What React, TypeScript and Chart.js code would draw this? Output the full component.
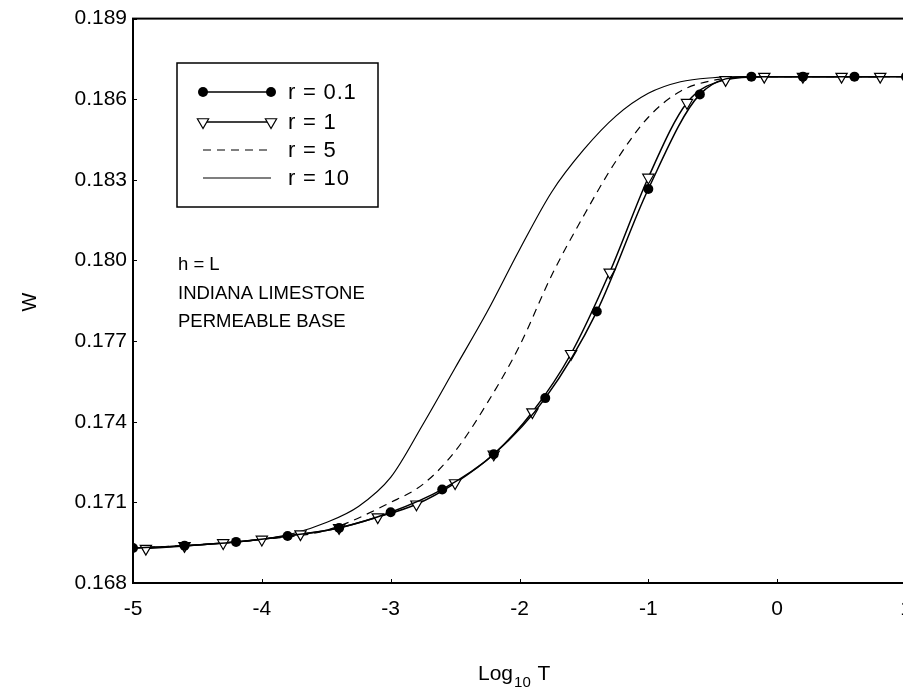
import React, { useEffect, useRef } from 'react';
import { Chart, registerables } from 'chart.js';

Chart.register(...registerables);

// ---- data ----
const xR01 = [-5, -4.6, -4.2, -3.8, -3.4, -3.0, -2.6, -2.2, -1.8, -1.4, -1.0, -0.6, -0.2, 0.2, 0.6, 1.0];
const wR01 = [0.1693, 0.16939, 0.16953, 0.16975, 0.17005, 0.17063, 0.17148, 0.17279, 0.17488, 0.1781, 0.18266, 0.18618, 0.18684, 0.18684, 0.18684, 0.18684];

const xR1 = [-4.9, -4.6, -4.3, -4.0, -3.7, -3.4, -3.1, -2.8, -2.5, -2.2, -1.9, -1.6, -1.3, -1.0, -0.7, -0.4, -0.1, 0.2, 0.5, 0.8];
const wR1 = [0.16928, 0.16938, 0.16949, 0.16962, 0.16982, 0.17005, 0.17045, 0.17093, 0.17172, 0.17279, 0.17436, 0.17653, 0.17956, 0.18309, 0.18587, 0.18672, 0.18684, 0.18684, 0.18684, 0.18684];

const xR5 = [-5, -4.5, -4, -3.5, -3, -2.75, -2.5, -2.25, -2, -1.75, -1.5, -1.25, -1, -0.75, -0.5, -0.25, 0, 0.5, 1];
const wR5 = [0.1693, 0.16942, 0.16962, 0.16996, 0.171, 0.17167, 0.1729, 0.1747, 0.17682, 0.17945, 0.18168, 0.18371, 0.18533, 0.1863, 0.1867, 0.18682, 0.18684, 0.18684, 0.18684];

const xR10 = [-5, -4.5, -4, -3.75, -3.5, -3.25, -3, -2.75, -2.5, -2.25, -2, -1.75, -1.5, -1.25, -1, -0.75, -0.5, -0.25, 0, 0.5, 1];
const wR10 = [0.1693, 0.16941, 0.16963, 0.16985, 0.17025, 0.17085, 0.17193, 0.1739, 0.176, 0.1781, 0.1804, 0.18255, 0.18413, 0.18538, 0.18622, 0.18665, 0.1868, 0.18684, 0.18684, 0.18684, 0.18684];

const yTicks = [0.168, 0.171, 0.174, 0.177, 0.18, 0.183, 0.186, 0.189];
const xTicks = [-5, -4, -3, -2, -1, 0, 1];

const seriesLabels = ['r = 0.1', 'r = 1', 'r = 5', 'r = 10'];
const noteLines = ['h = L', 'INDIANA LIMESTONE', 'PERMEABLE BASE'];
const xTitleMain = 'Log';
const xTitleSub = '10';
const xTitleEnd = ' T';
const yTitle = 'W';

const FONT = "'Liberation Sans', Arial, Helvetica, sans-serif";

const toPts = (xs: number[], ys: number[]) => xs.map((x, i) => ({ x, y: ys[i] }));

function drawTri(ctx: CanvasRenderingContext2D, x: number, y: number, r: number) {
  let rad = Math.PI;
  const step = (2 * Math.PI) / 3;
  ctx.beginPath();
  ctx.moveTo(x + Math.sin(rad) * r, y - Math.cos(rad) * r);
  rad += step;
  ctx.lineTo(x + Math.sin(rad) * r, y - Math.cos(rad) * r);
  rad += step;
  ctx.lineTo(x + Math.sin(rad) * r, y - Math.cos(rad) * r);
  ctx.closePath();
  ctx.fillStyle = '#fff';
  ctx.fill();
  ctx.stroke();
}

const framePlugin = {
  id: 'frame',
  afterDatasetsDraw(chart: any) {
    const { ctx, chartArea: a, scales } = chart;
    ctx.save();
    ctx.strokeStyle = '#000';
    ctx.lineWidth = 2;
    ctx.strokeRect(a.left, a.top, a.right - a.left, a.bottom - a.top);
    ctx.lineWidth = 1;
    yTicks.forEach((v) => {
      const py = Math.round(scales.y.getPixelForValue(v)) + 0.5;
      ctx.beginPath();
      ctx.moveTo(a.left, py);
      ctx.lineTo(a.left + 4, py);
      ctx.stroke();
    });
    xTicks.forEach((v) => {
      const px = Math.round(scales.x.getPixelForValue(v)) + 0.5;
      ctx.beginPath();
      ctx.moveTo(px, a.bottom);
      ctx.lineTo(px, a.bottom - 4);
      ctx.stroke();
    });
    ctx.restore();
  },
  afterDraw(chart: any) {
    const { ctx } = chart;
    ctx.save();
    ctx.strokeStyle = '#000';
    ctx.fillStyle = '#000';
    ctx.lineWidth = 1.5;
    ctx.strokeRect(177, 63, 201, 144);
    const rows = [92, 122, 150, 178];
    const x0 = 203;
    const x1 = 271;
    rows.forEach((y, i) => {
      ctx.save();
      ctx.strokeStyle = '#000';
      ctx.lineWidth = i < 2 ? 1.5 : 1.2;
      if (i === 2) ctx.setLineDash([8, 6]);
      ctx.beginPath();
      ctx.moveTo(x0, y);
      ctx.lineTo(x1, y);
      ctx.stroke();
      ctx.setLineDash([]);
      if (i === 0) {
        [x0, x1].forEach((px) => {
          ctx.beginPath();
          ctx.arc(px, y, 5, 0, Math.PI * 2);
          ctx.fillStyle = '#000';
          ctx.fill();
        });
      } else if (i === 1) {
        ctx.lineWidth = 1.2;
        [x0, x1].forEach((px) => drawTri(ctx, px, y, 6.5));
      }
      ctx.restore();
      ctx.save();
      ctx.fillStyle = '#000';
      ctx.font = `22px ${FONT}`;
      ctx.textBaseline = 'middle';
      ctx.textAlign = 'left';
      (ctx as any).letterSpacing = '0.8px';
      ctx.fillText(seriesLabels[i], 288, y + 1);
      ctx.restore();
    });
    ctx.fillStyle = '#000';
    ctx.textAlign = 'left';
    ctx.font = `18.5px ${FONT}`;
    ctx.textBaseline = 'alphabetic';
    const baselines = [270, 299, 327];
    noteLines.forEach((t, i) => ctx.fillText(t, 178, baselines[i]));
    ctx.font = `21px ${FONT}`;
    let tx = 478;
    const by = 680;
    ctx.fillText(xTitleMain, tx, by);
    tx += ctx.measureText(xTitleMain).width + 1;
    ctx.font = `15px ${FONT}`;
    ctx.fillText(xTitleSub, tx, by + 7);
    tx += ctx.measureText(xTitleSub).width + 1;
    ctx.font = `21px ${FONT}`;
    ctx.fillText(xTitleEnd, tx, by);
    ctx.translate(30, 302);
    ctx.rotate(-Math.PI / 2);
    ctx.textAlign = 'center';
    ctx.textBaseline = 'middle';
    ctx.font = `20px ${FONT}`;
    ctx.fillText(yTitle, 0, 0);
    ctx.restore();
  },
};

export default function App() {
  const ref = useRef<HTMLCanvasElement | null>(null);

  useEffect(() => {
    if (!ref.current) return;
    const chart = new Chart(ref.current, {
      type: 'line',
      data: {
        datasets: [
          {
            label: seriesLabels[0],
            data: toPts(xR01, wR01),
            borderColor: '#000',
            borderWidth: 1.5,
            pointStyle: 'circle',
            pointRadius: 5,
            pointBackgroundColor: '#000',
            pointBorderColor: '#000',
            pointBorderWidth: 0,
            cubicInterpolationMode: 'monotone',
            fill: false,
          },
          {
            label: seriesLabels[1],
            data: toPts(xR1, wR1),
            borderColor: '#000',
            borderWidth: 1.5,
            pointStyle: 'triangle',
            pointRotation: 180,
            pointRadius: 6.5,
            pointBackgroundColor: '#fff',
            pointBorderColor: '#000',
            pointBorderWidth: 1.2,
            cubicInterpolationMode: 'monotone',
            fill: false,
          },
          {
            label: seriesLabels[2],
            data: toPts(xR5, wR5),
            borderColor: '#000',
            borderWidth: 1.2,
            borderDash: [8, 6],
            pointRadius: 0,
            cubicInterpolationMode: 'monotone',
            fill: false,
          },
          {
            label: seriesLabels[3],
            data: toPts(xR10, wR10),
            borderColor: '#000',
            borderWidth: 1.2,
            pointRadius: 0,
            cubicInterpolationMode: 'monotone',
            fill: false,
          },
        ],
      },
      options: {
        animation: false,
        responsive: false,
        maintainAspectRatio: false,
        events: [],
        layout: { padding: { top: 17.5, right: 24, left: 0, bottom: 0 } },
        plugins: { legend: { display: false }, tooltip: { enabled: false } },
        scales: {
          x: {
            type: 'linear',
            min: -5,
            max: 1,
            grid: { display: false, drawTicks: false },
            border: { display: false },
            afterBuildTicks: (s: any) => {
              s.ticks = xTicks.map((v) => ({ value: v }));
            },
            afterFit: (s: any) => {
              s.height = 110;
            },
            ticks: {
              color: '#000',
              font: { family: FONT, size: 21 },
              padding: 14,
              maxRotation: 0,
              autoSkip: false,
              callback: (v: any) => String(v),
            },
          },
          y: {
            type: 'linear',
            min: 0.168,
            max: 0.189,
            grid: { display: false, drawTicks: false },
            border: { display: false },
            afterBuildTicks: (s: any) => {
              s.ticks = yTicks.map((v) => ({ value: v }));
            },
            afterFit: (s: any) => {
              s.width = 133;
            },
            ticks: {
              color: '#000',
              font: { family: FONT, size: 21 },
              padding: 6,
              autoSkip: false,
              callback: (v: any) => Number(v).toFixed(3),
            },
          },
        },
      },
      plugins: [framePlugin],
    } as any);
    return () => chart.destroy();
  }, []);

  return (
    <div style={{ position: 'fixed', left: 0, top: 0, width: 903, height: 693, overflow: 'hidden', background: '#fff' }}>
      <canvas ref={ref} width={930} height={693} style={{ width: 930, height: 693, display: 'block' }} />
    </div>
  );
}
